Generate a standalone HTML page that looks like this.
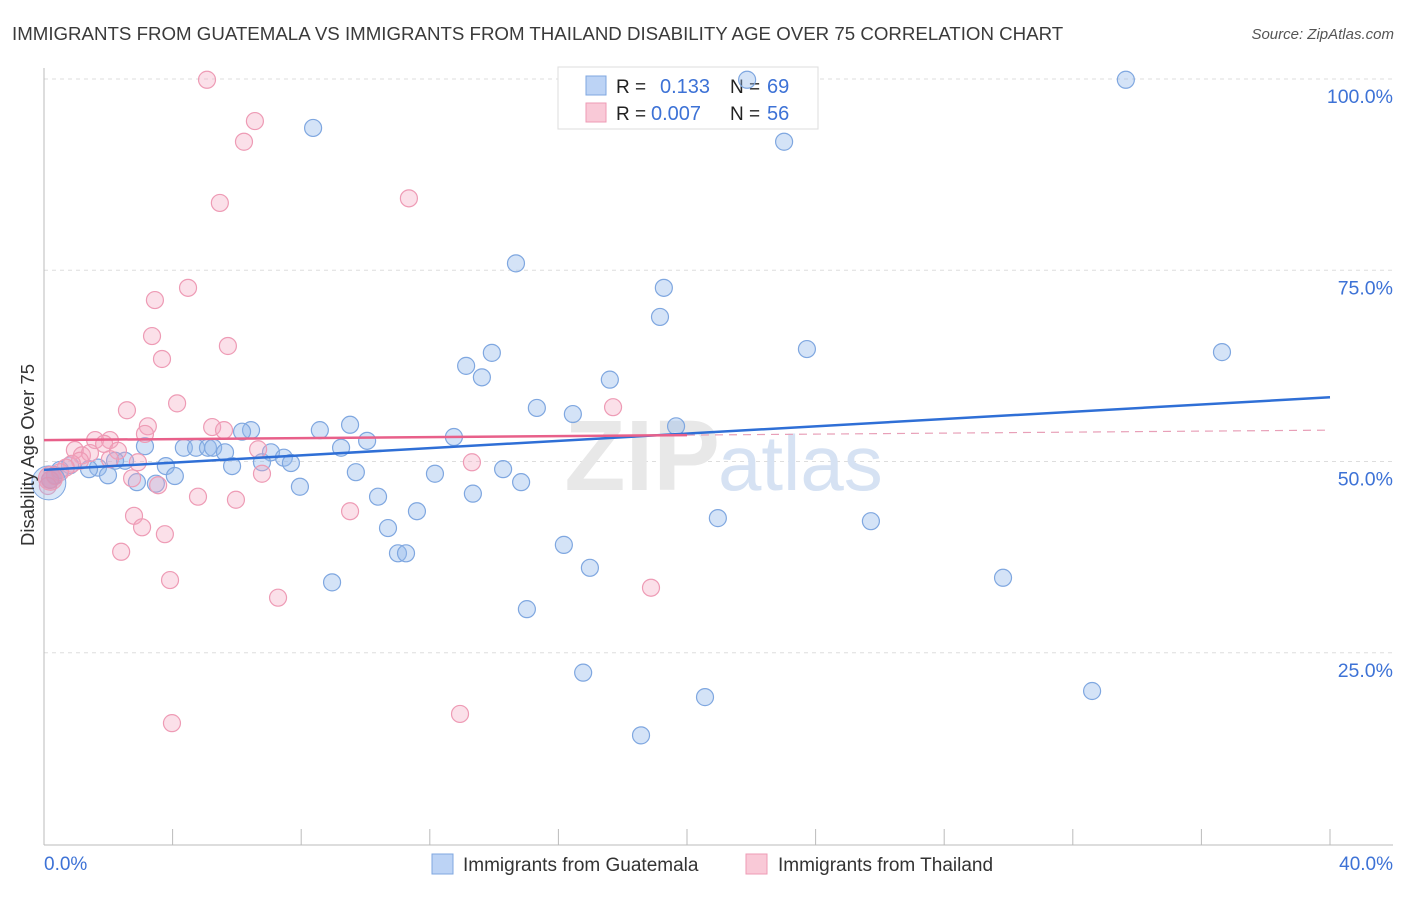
<!DOCTYPE html>
<html><head><meta charset="utf-8"><style>
body{margin:0;background:#fff;font-family:"Liberation Sans",sans-serif;}
svg text{font-family:"Liberation Sans",sans-serif;}
</style></head><body>
<svg id="c" width="1406" height="892">
<text x="12" y="40" font-size="18.7" fill="#3a3a3a">IMMIGRANTS FROM GUATEMALA VS IMMIGRANTS FROM THAILAND DISABILITY AGE OVER 75 CORRELATION CHART</text>
<text x="1394" y="39" font-size="15" fill="#555" text-anchor="end" font-style="italic">Source: ZipAtlas.com</text>
<g id="grid"></g>
<text x="720" y="490" font-size="100" fill="#e8e8e8" text-anchor="end" font-family="Liberation Serif" font-weight="bold">ZIP</text>
<text x="718" y="490" font-size="78" fill="#d6e2f3">atlas</text>
<g>
<rect x="558" y="67" width="260" height="62" fill="#fff" stroke="#ddd"/>
<rect x="586" y="76" width="20" height="19" fill="#bcd3f5" stroke="#7fa7e0"/>
<rect x="586" y="103" width="20" height="19" fill="#f9c9d7" stroke="#ee9bb5"/>
<text x="616" y="93" font-size="19" fill="#222">R = </text><text x="660" y="93" font-size="20" fill="#3d72d6">0.133</text>
<text x="730" y="93" font-size="19" fill="#222">N = </text><text x="767" y="93" font-size="20" fill="#3d72d6">69</text>
<text x="616" y="120" font-size="19" fill="#222">R = </text><text x="651" y="120" font-size="20" fill="#3d72d6">0.007</text>
<text x="730" y="120" font-size="19" fill="#222">N = </text><text x="767" y="120" font-size="20" fill="#3d72d6">56</text>
</g>
<g id="pts"></g>
<g id="trend"></g>
<text transform="translate(34,455) rotate(-90)" font-size="18.5" fill="#333" text-anchor="middle">Disability Age Over 75</text>
<text x="44" y="870" font-size="19" fill="#3d72d6">0.0%</text>
<text x="1393" y="870" font-size="19" fill="#3d72d6" text-anchor="end">40.0%</text>
<g>
<rect x="432" y="854" width="21" height="20" fill="#bcd3f5" stroke="#7fa7e0"/>
<text x="463" y="871" font-size="19" fill="#333">Immigrants from Guatemala</text>
<rect x="746" y="854" width="21" height="20" fill="#f9c9d7" stroke="#ee9bb5"/>
<text x="778" y="871" font-size="19" fill="#333">Immigrants from Thailand</text>
</g>
</svg>
<script>
const yTicks=[25,50,75,100];
const yTickLabels=["25.0%","50.0%","75.0%","100.0%"];
const xTicks=[0,4,8,12,16,20,24,28,32,36,40];
const blueX=[8.37,21.87,33.65,23.02,14.68,19.28,19.16,23.73,36.64,13.13,13.93,13.62,17.6,15.33,16.45,9.52,19.66,8.58,6.44,6.16,12.75,10.05,9.24,4.35,4.73,5.10,5.26,5.63,7.06,7.46,7.68,6.78,5.85,3.79,3.14,2.52,2.21,1.68,1.40,0.81,0.50,0.34,0.19,1.99,2.89,3.48,4.07,9.70,7.96,12.16,14.28,14.84,13.34,10.39,11.60,10.70,11.01,11.26,16.17,16.98,20.96,25.72,8.96,15.02,29.83,16.77,32.6,20.56,18.57];
const blueY=[93.6,99.9,99.9,91.8,75.9,72.7,68.9,64.7,64.3,62.5,64.2,61.0,60.7,57.0,56.2,54.8,54.6,54.1,54.1,53.9,53.2,52.7,51.8,51.8,51.8,51.8,51.8,51.2,51.2,50.5,49.8,49.9,49.4,49.4,52.0,50.1,50.1,49.2,49.0,49.5,48.9,48.2,47.6,48.2,47.3,47.1,48.1,48.6,46.7,48.4,49.0,47.3,45.8,45.4,43.5,41.3,38.0,38.0,39.1,36.1,42.6,42.2,34.2,30.7,34.8,22.4,20.0,19.2,14.2];
const pinkX=[5.07,6.56,6.22,11.35,5.47,4.48,3.45,3.36,5.72,3.67,4.14,2.58,3.23,5.23,5.60,3.14,1.59,2.05,1.87,0.96,1.18,1.43,2.30,6.66,2.05,2.92,1.12,0.87,0.68,0.50,0.34,0.19,0.12,17.7,13.31,6.78,2.74,3.55,4.79,5.97,9.52,2.80,3.05,3.76,2.40,3.92,7.28,18.88,12.94,3.98];
const pinkY=[99.9,94.5,91.8,84.4,83.8,72.7,71.1,66.4,65.1,63.4,57.6,56.7,54.6,54.5,54.1,53.6,52.8,52.8,52.3,51.5,50.8,51.1,51.4,51.6,50.3,49.9,50.1,49.7,49.2,48.6,48.1,47.6,46.8,57.1,49.9,48.4,47.8,46.9,45.4,45.0,43.5,42.9,41.4,40.5,38.2,34.5,32.2,33.5,17.0,15.8];
const blueTrend=[48.9,58.4];
const pinkTrend=[52.8,54.1];
const X=v=>44+v/40*1286, Y=v=>844-v/100*765;
const NS="http://www.w3.org/2000/svg";
function mk(t,a,p){const e=document.createElementNS(NS,t);for(const k in a)e.setAttribute(k,a[k]);p.appendChild(e);return e;}
const g=document.getElementById('grid');
yTicks.forEach((t,i)=>{
 const l=mk('line',{x1:44,x2:1393,y1:Y(t),y2:Y(t),stroke:'#ddd','stroke-dasharray':'4,4'},g);
 
 
 const tx=mk('text',{x:1393,y:Y(t)+24,'font-size':19.5,fill:'#3d72d6','text-anchor':'end'},g);
 tx.textContent=yTickLabels[i];
 
 
});
const ax=mk('line',{x1:44,x2:44,y1:68,y2:845,stroke:'#bbb'},g);


const bx=mk('line',{x1:44,x2:1393,y1:845,y2:845,stroke:'#bbb'},g);


xTicks.forEach(t=>{const l=mk('line',{x1:X(t),x2:X(t),y1:829,y2:845,stroke:'#bbb'},g);
 
 });
const p=document.getElementById('pts');
function dots(xs,ys,fill,stroke,name){xs.forEach((x,i)=>{const c=mk('circle',{cx:X(x),cy:Y(ys[i]),r:8.5,fill:fill,stroke:stroke,'stroke-width':1.2},p);
 
 });}
dots(blueX,blueY,'rgba(147,185,236,0.4)','#7fa7e0','point-guatemala');
dots(pinkX,pinkY,'rgba(244,165,192,0.35)','#ee9bb5','point-thailand');
const big1=mk('circle',{cx:X(0.15),cy:Y(47.2),r:17,fill:'rgba(147,185,236,0.35)',stroke:'#7fa7e0'},p);


const big2=mk('circle',{cx:X(0.2),cy:Y(47.8),r:12,fill:'rgba(230,130,165,0.45)',stroke:'#ee9bb5'},p);


const tr=document.getElementById('trend');
const bl=mk('line',{x1:X(0),x2:X(40),y1:Y(blueTrend[0]),y2:Y(blueTrend[1]),stroke:'#2f6fd6','stroke-width':2.5},tr);


const pm=pinkTrend[0]+(pinkTrend[1]-pinkTrend[0])*20/40;
const pl=mk('line',{x1:X(0),x2:X(20),y1:Y(pinkTrend[0]),y2:Y(pm),stroke:'#e8608a','stroke-width':2.5},tr);


const pd=mk('line',{x1:X(20),x2:X(40),y1:Y(pm),y2:Y(pinkTrend[1]),stroke:'#e8a0b8','stroke-width':1.2,'stroke-dasharray':'8,6'},tr);


</script>
</body></html>
